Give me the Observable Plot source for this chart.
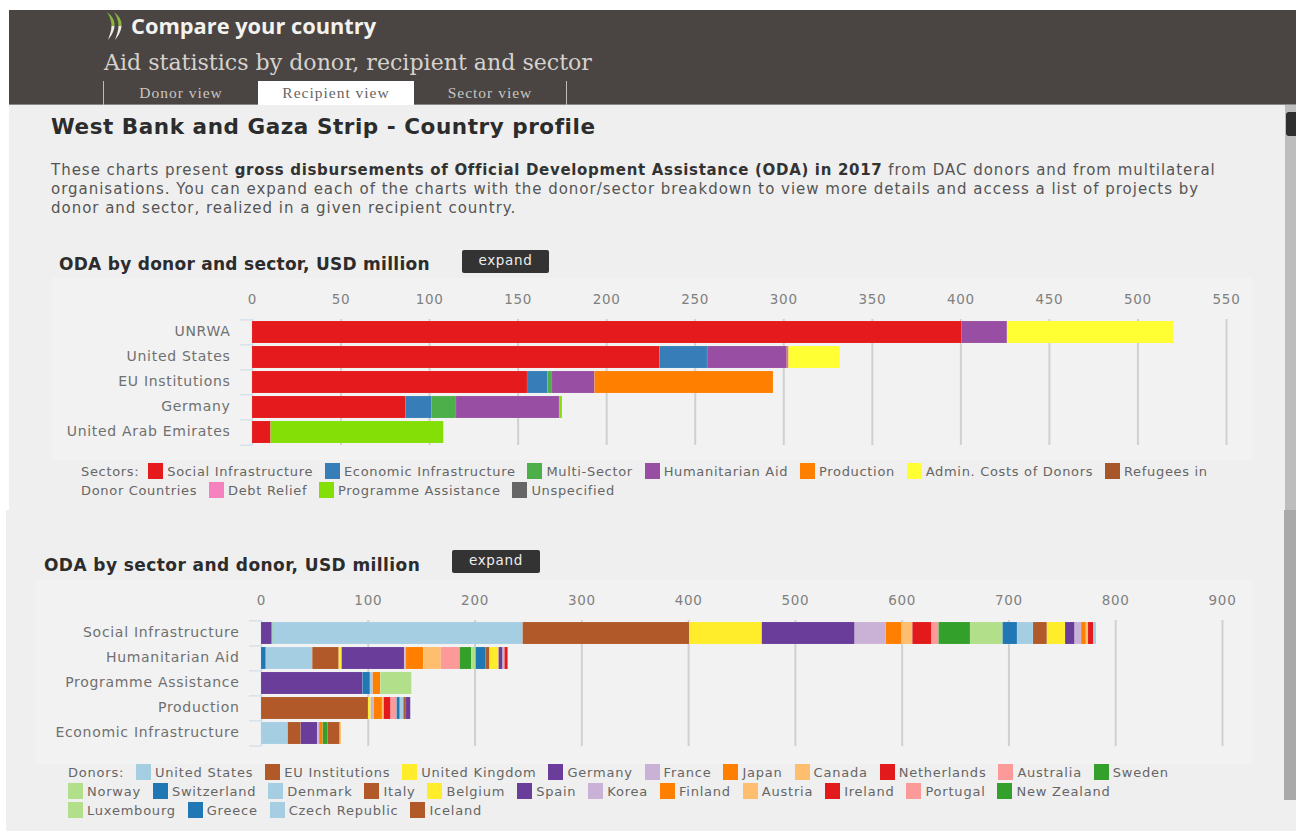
<!DOCTYPE html>
<html><head><meta charset="utf-8">
<script src="https://cdn.jsdelivr.net/npm/d3@7"></script>
<script src="https://cdn.jsdelivr.net/npm/@observablehq/plot@0.6"></script>
<style>
html,body{margin:0;padding:0;background:#fff;overflow:hidden}
#page{position:relative;width:1296px;height:831px;font-family:"DejaVu Sans",sans-serif;color:#555;overflow:hidden}
.abs{position:absolute;white-space:nowrap}
#head{left:9px;top:10px;width:1287px;height:95px;background:#4a4543;border-bottom:1px solid #8a8684;box-sizing:border-box}
#main{left:9px;top:105px;width:1287px;height:405px;background:#efefef}
#main2{left:6px;top:510px;width:1290px;height:321px;background:#efefef}
.panel{background:#f2f2f2}
.tab{top:81px;height:23px;text-align:center;font:15.5px "Liberation Serif",serif;line-height:23px;letter-spacing:1px;color:#c9c5c2}
.btn{background:#333;color:#eee;border-radius:2px;text-align:center;font-size:13.5px;letter-spacing:.7px;height:23px;line-height:21px}
.h2{font-weight:bold;font-size:17px;letter-spacing:.27px;color:#2c2c2c}
.legend{position:absolute;font-size:13px;letter-spacing:.68px;line-height:19px;color:#666}
.legend .sw{display:inline-block;width:15px;height:16px;vertical-align:-3px;margin:0 4px 0 0}
.legend .item{white-space:nowrap}
.legend .end{margin-right:7px}
.legend .ttl{margin-right:7px}
#l1 .ttl{margin-right:4px}
#l2{letter-spacing:.78px}
.chart{position:absolute}
.chart svg{background:transparent;display:block}
.chart svg text{letter-spacing:.7px}
</style></head>
<body><div id="page">
<div class="abs" id="head"></div>
<div class="abs" id="main"></div>
<div class="abs" id="main2"></div>
<svg class="abs" style="left:106px;top:11px" width="22" height="30" viewBox="0 0 22 30">
<path d="M1 1 C7 6 9 10 8.5 15 L5.5 15 C5.5 10 4 6 1 1Z M8 1 C14 6 16 10 15.5 15 L12.5 15 C12.5 10 11 6 8 1Z" fill="#8db33f"/>
<path d="M5.5 15 L8.5 15 C8 21 5 25 2 29 C3.5 24 5.5 20 5.5 15Z M12.5 15 L15.5 15 C15 21 12 25 9 29 C10.5 24 12.5 20 12.5 15Z" fill="#eeece6"/>
</svg>
<div class="abs" style="left:131px;top:11px;font:bold 21.8px 'Open Sans',sans-serif;color:#f4f2ef">Compare your country</div>
<div class="abs" style="left:104px;top:49px;font:22.1px 'DejaVu Serif',serif;color:#d6d2ce">Aid statistics by donor, recipient and sector</div>
<div class="abs" style="left:103px;top:81px;width:1px;height:24px;background:#bbb"></div>
<div class="abs" style="left:566px;top:81px;width:1px;height:24px;background:#bbb"></div>
<div class="abs tab" style="left:104px;width:154px">Donor view</div>
<div class="abs tab" style="left:258px;width:156px;height:24px;background:#fff;color:#666">Recipient view</div>
<div class="abs tab" style="left:414px;width:152px">Sector view</div>
<div class="abs" id="h1" style="left:51px;top:114px;font-weight:bold;font-size:21.5px;letter-spacing:.55px;color:#2c2c2c">West Bank and Gaza Strip - Country profile</div>
<div class="abs" id="intro" style="left:51px;top:161px;font-size:15px;letter-spacing:.98px;line-height:19px;color:#555">These charts present <b style="color:#333;letter-spacing:.68px">gross disbursements of Official Development Assistance (ODA) in 2017</b> from DAC donors and from multilateral<br>organisations. You can expand each of the charts with the donor/sector breakdown to view more details and access a list of projects by<br>donor and sector, realized in a given recipient country.</div>
<div class="abs panel" style="left:52px;top:278px;width:1200px;height:182px"></div>
<div class="abs panel" style="left:36px;top:580px;width:1216px;height:184px"></div>
<div class="abs h2" style="left:59px;top:254px">ODA by donor and sector, USD million</div>
<div class="abs btn" style="left:462px;top:250px;width:87px">expand</div>
<div class="abs h2" style="left:44px;top:555px;letter-spacing:.42px">ODA by sector and donor, USD million</div>
<div class="abs btn" style="left:452px;top:550px;width:88px">expand</div>
<div class="chart" id="c1" style="left:0;top:280px"></div>
<div class="chart" id="c2" style="left:0;top:580px"></div>
<div class="legend" id="l1" style="left:81px;top:462px;width:1150px"></div>
<div class="legend" id="l2" style="left:68px;top:763px;width:1130px"></div>
<div class="abs" style="left:1285px;top:105px;width:11px;height:405px;background:#bdbdbd"></div>
<div class="abs" style="left:1284px;top:510px;width:12px;height:290px;background:#a9a9a9"></div>
<div class="abs" style="left:1286px;top:112px;width:10px;height:24px;background:#2f2f2f;border-radius:3px 0 0 3px"></div>
</div>
<script>
// ---- chart 1 ----
const donorRows = ["UNRWA","United States","EU Institutions","Germany","United Arab Emirates"];
const sectors = ["Social Infrastructure","Economic Infrastructure","Multi-Sector","Humanitarian Aid","Production","Admin. Costs of Donors","Refugees in Donor Countries","Debt Relief","Programme Assistance","Unspecified"];
const sectorColors = ["#e41a1c","#377eb8","#4daf4a","#984ea3","#ff7f00","#ffff33","#a65628","#f781bf","#83df05","#666666"];
//                        social eco  multi hum   prod  admin ref debt prog unsp
const unrwaValues      = [400.5, 0,   0,   25.8,  0,   94.1, 0,  0,  0,   0];
const usValues         = [230.2, 26.8,0,   45,    1,   29,   0,  0,  0,   0];
const euValues         = [155.3, 11.6,2.5, 24,    100.8,0,   0,  0,  0,   0];
const germanyValues    = [86.8,  14.7,13.7,58.2,  0,   0,    0,  0,  1.6, 0];
const uaeValues        = [10.5,  0,   0,   0,     0,   0,    0,  0,  97.5,0];
const donorValues = [unrwaValues,usValues,euValues,germanyValues,uaeValues];
const ticks1 = [0,50,100,150,200,250,300,350,400,450,500,550];

// ---- chart 2 ----
const sectorRows = ["Social Infrastructure","Humanitarian Aid","Programme Assistance","Production","Economic Infrastructure"];
const donors = ["United States","EU Institutions","United Kingdom","Germany","France","Japan","Canada","Netherlands","Australia","Sweden","Norway","Switzerland","Denmark","Italy","Belgium","Spain","Korea","Finland","Austria","Ireland","Portugal","New Zealand","Luxembourg","Greece","Czech Republic","Iceland"];
const pairedCycle = ["#a6cee3","#b15928","#ffed2b","#6a3d9a","#cab2d6","#ff7f00","#fdbf6f","#e31a1c","#fb9a99","#33a02c","#b2df8a","#1f78b4","#a6cee3","#b15928","#ffed2b","#6a3d9a","#cab2d6","#ff7f00","#fdbf6f","#e31a1c","#fb9a99","#33a02c","#b2df8a","#1f78b4","#a6cee3","#b15928"];
const socialDonors = ["Spain","New Zealand","United States","EU Institutions","United Kingdom","Germany","France","Japan","Canada","Netherlands","Australia","Sweden","Norway","Switzerland","Denmark","Italy","Belgium","Spain","Korea","Finland","Austria","Ireland","Czech Republic"];
const socialValues = [9.6,1.2,234.2,156,68,87,29,15,10,18,6.5,29.5,30.5,13.5,15,13,17,9,6,4.5,2,5,2.5];
const humanDonors = ["Switzerland","United States","EU Institutions","United Kingdom","Germany","France","Japan","Canada","Australia","Sweden","Norway","Greece","Italy","Belgium","Spain","Korea","Ireland"];
const humanValues = [4.5,43.5,24.8,2.7,58.5,1.8,16.2,16.5,17.5,11,4,9,4,8.5,3.8,1.7,3];
const progDonors = ["Germany","Switzerland","Denmark","Japan","Norway"];
const progValues = [95,7,2.6,7.1,29.1];
const prodDonors = ["EU Institutions","United Kingdom","France","Japan","Canada","Netherlands","Australia","Switzerland","Denmark","Italy","Germany"];
const prodValues = [100.2,2.5,2.8,7.8,1.6,6.5,5.6,3,3.3,2.5,4];
const econDonors = ["United States","EU Institutions","Germany","France","Japan","Sweden","Italy","Canada"];
const econValues = [25,12.2,15.4,1.8,3.4,4.7,11.2,1.2];
const ticks2 = [0,100,200,300,400,500,600,700,800,900];

const rows1 = donorRows.flatMap((r,i)=>sectors.map((s,j)=>({row:r,key:s,value:donorValues[i][j]}))).filter(d=>d.value>0);
const zip = (r,ks,vs)=>ks.map((k,i)=>({row:r,key:k,value:vs[i]}));
const rows2 = [
  ...zip(sectorRows[0],socialDonors,socialValues),
  ...zip(sectorRows[1],humanDonors,humanValues),
  ...zip(sectorRows[2],progDonors,progValues),
  ...zip(sectorRows[3],prodDonors,prodValues),
  ...zip(sectorRows[4],econDonors,econValues)];

function barChart(o){
  return Plot.plot({
    width:1296, height:o.height, marginLeft:o.left, marginRight:1296-o.right, marginTop:o.top, marginBottom:o.bottom,
    style:{background:"transparent",fontFamily:'"DejaVu Sans", sans-serif',fontSize:"13px",color:"#666",overflow:"visible"},
    x:{domain:o.domain,range:[o.left,o.right],axis:null},
    y:{domain:o.rows,paddingInner:0.12,paddingOuter:0.06,axis:null,label:null},
    color:{type:"ordinal",domain:o.keys,range:o.colors},
    marks:[
      Plot.ruleX(o.ticks.slice(1),{stroke:"#d0d0d0",strokeWidth:2,strokeOpacity:1}),
      Plot.axisX({anchor:"top",ticks:o.ticks,tickSize:0,tickPadding:o.pad,tickFormat:d=>String(d),label:null,fill:"#808080",fontSize:13.5}),
      Plot.ruleX([0],{stroke:"#c9d9e8",strokeWidth:1.5}),
      Plot.axisY(o.rows,{anchor:"left",tickSize:12,dy:-o.step/2,text:null,stroke:"#c9d9e8",strokeOpacity:1,label:null}),
      Plot.axisY(o.rows.slice(-1),{anchor:"left",tickSize:12,dy:o.step/2,text:null,stroke:"#c9d9e8",strokeOpacity:1,label:null}),
      Plot.axisY(o.rows,{anchor:"left",tickSize:0,tickPadding:o.labelPad,fill:"#707070",label:null,fontSize:14,dy:-1}),
      Plot.barX(o.data,{x:"value",y:"row",fill:"key",order:null,stroke:"#fff",strokeOpacity:.18,strokeWidth:.5})
    ]
  });
}
document.getElementById("c1").append(barChart({height:180,top:39,bottom:15,left:252,right:1226,domain:[0,550],rows:donorRows,keys:sectors,colors:sectorColors,data:rows1,ticks:ticks1,pad:16,labelPad:22,step:25.2}));
document.getElementById("c2").append(barChart({height:180,top:40,bottom:14,left:261,right:1222,domain:[0,900],rows:sectorRows,keys:donors,colors:pairedCycle,data:rows2,ticks:ticks2,pad:16,labelPad:22,step:25.2}));

function legend(el,title,keys,colors){
  const e=document.getElementById(el);
  const item=(k,i)=>{
    const w=k.split(" ");
    const last=w.length-1;
    const rest=w.slice(1).map((x,j)=>`<span${j===last-1?' class="end"':''}>${x}</span>`).join(" ");
    const first=`<span class="item"><span class="sw" style="background:${colors[i]}"></span><span${last===0?' class="end"':''}>${w[0]}</span></span>`;
    return first+(rest?" "+rest:"");
  };
  e.innerHTML = `<span class="ttl">${title}</span> `+keys.map(item).join(" ");
}
legend("l1","Sectors:",sectors,sectorColors);
legend("l2","Donors:",donors,pairedCycle);
</script>
</body></html>
